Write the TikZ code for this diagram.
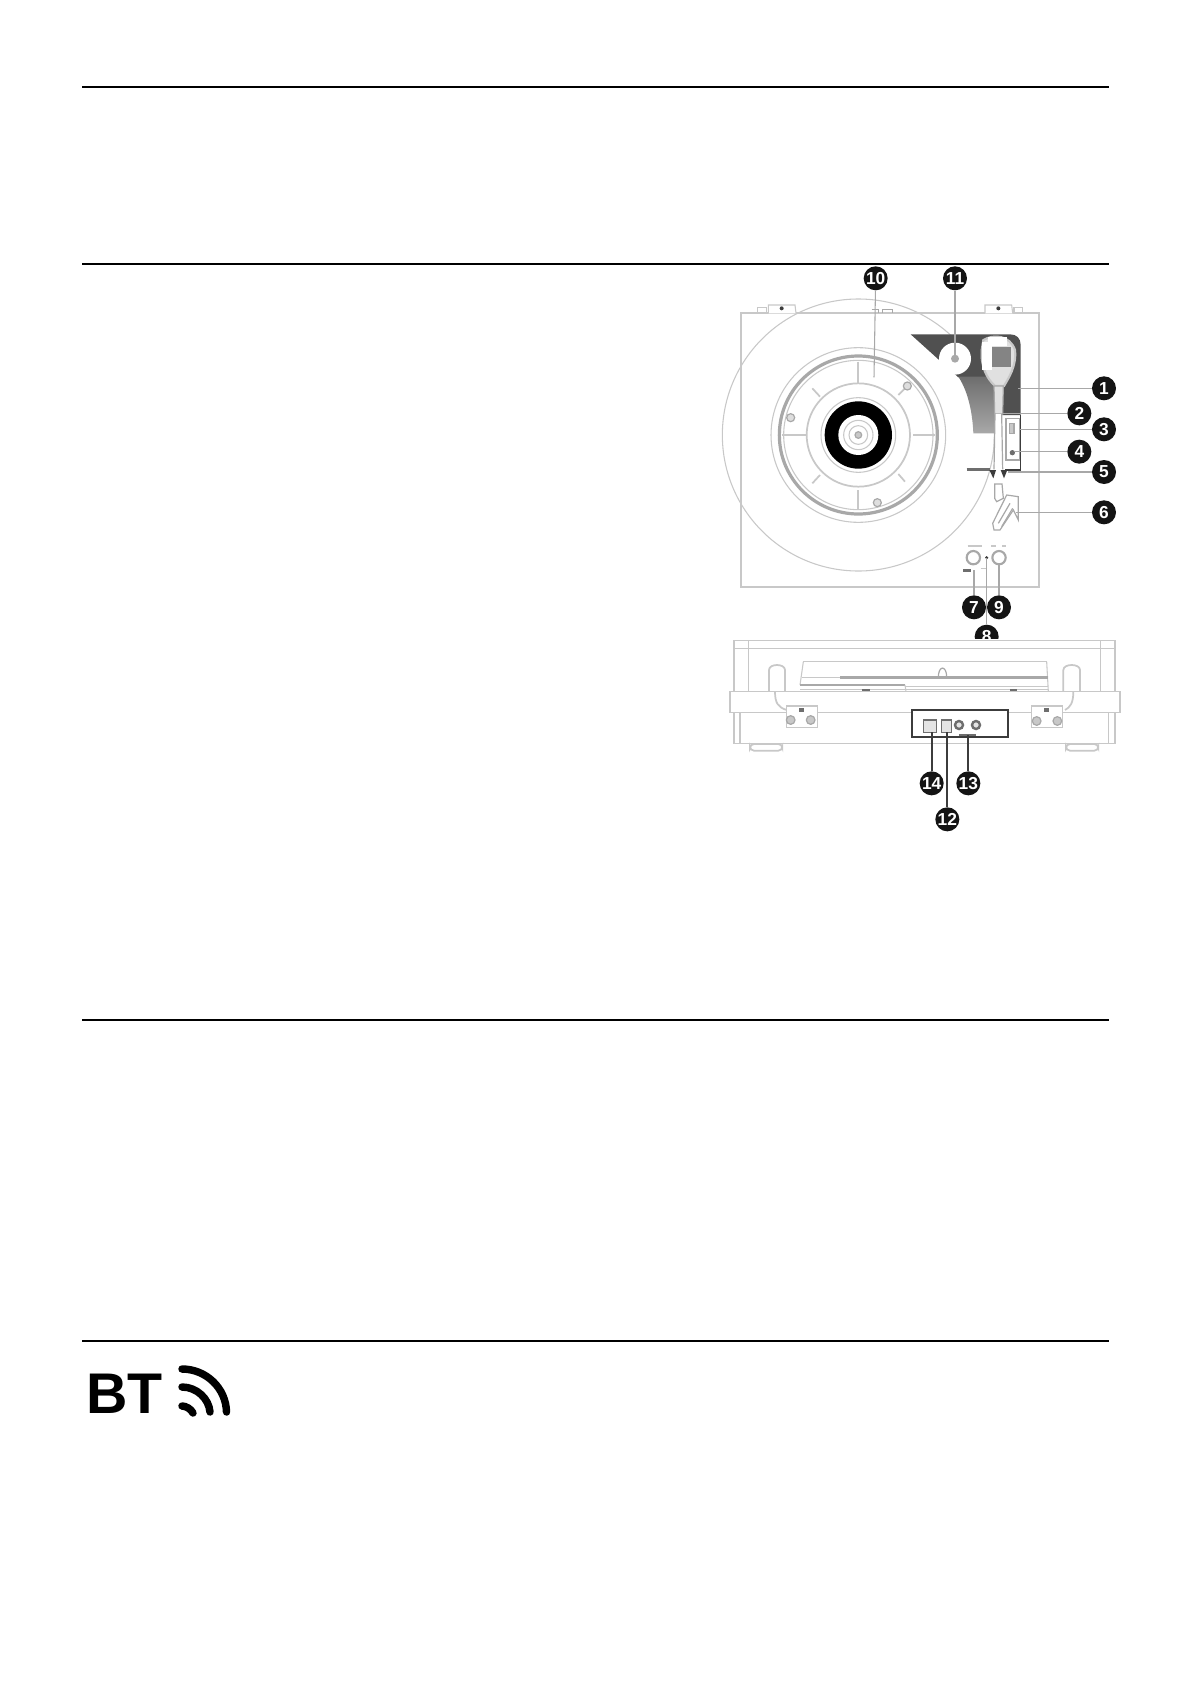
\documentclass[tikz,border=0pt]{standalone}
\usepackage{fontspec}
\setmainfont{Liberation Sans}
\definecolor{lg}{HTML}{C8C8C8}
\definecolor{mg}{HTML}{A8A8A8}
\definecolor{dg}{HTML}{6E6E6E}
\definecolor{ink}{HTML}{3C3C3C}
\tikzset{
  rulel/.style={draw=black,line width=1.5pt},
  badge/.style={circle,fill=black!92,text=white,inner sep=0pt,minimum size=18pt,font=\fontsize{13}{13}\selectfont\bfseries},
  lead/.style={draw=mg,line width=0.8pt},
  leadk/.style={draw=ink,line width=1.3pt},
  thinl/.style={draw=lg,line width=0.8pt},
  thickl/.style={draw=lg,line width=1.3pt},
  midl/.style={draw=mg,line width=0.9pt},
  wave/.style={draw=black,line width=5.6pt,line cap=round}
}
\begin{document}
\begin{tikzpicture}[x=0.75pt,y=-0.75pt]
\useasboundingbox (0,0) rectangle (1191,1684);
\fill[white] (0,0) rectangle (1191,1684);
% page rules
\coordinate (r1a) at (82,87);   \coordinate (r1b) at (1109,87);
\coordinate (r2a) at (82,264);  \coordinate (r2b) at (1109,264);
\coordinate (r3a) at (82,1019.5); \coordinate (r3b) at (1109,1019.5);
\coordinate (r4a) at (82,1341); \coordinate (r4b) at (1109,1341);
\draw[rulel] (r1a) -- (r1b);
\draw[rulel] (r2a) -- (r2b);
\draw[rulel] (r3a) -- (r3b);
\draw[rulel] (r4a) -- (r4b);
% BT icon
\node[anchor=base west,inner sep=0pt,font=\fontsize{43}{43}\selectfont\bfseries] (bt) at (86,1413) {BT};
\draw[wave] (182,1406) .. controls (186,1406) and (191,1409) .. (193,1413);
\draw[wave] (182,1387) .. controls (197,1387) and (209,1399) .. (210,1412);
\draw[wave] (182,1369) .. controls (206,1369) and (226,1388) .. (226.5,1412);
% ---------- top view (coordinates in 1/3 px from 700,260)
\begin{scope}[shift={(700,260)},x=0.25pt,y=-0.25pt]
  % plinth and hinge tabs
  \draw[thickl] (122,160) rectangle (1018,982);
  \filldraw[thinl,fill=white] (205,160) -- (205,135) -- (285,135) -- (288,160);
  \filldraw[thinl,fill=white] (855,160) -- (855,135) -- (935,135) -- (938,160);
  \draw[thinl] (172,143) rectangle (200,160);
  \draw[thinl] (942,143) rectangle (968,160);
  \fill[ink] (245,145) circle (6);
  \fill[ink] (895,145) circle (6);
  \draw[midl] (515,148) -- (535,148) -- (535,160) (548,160) -- (548,148) -- (578,148) -- (578,160);
  % platter
  \draw[thinl] (475,525) circle (408);
  \draw[thinl] (475,525) circle (262);
  \draw[draw=mg,line width=2.4pt] (475,525) circle (237);
  \draw[thinl] (475,525) circle (224);
  \draw[thickl] (475,525) circle (155);
  \draw[thinl] (475,525) circle (112);
  \fill[black] (475,525) circle (101);
  \fill[white] (475,525) circle (60);
  \draw[thinl] (475,525) circle (44);
  \draw[thinl] (475,525) circle (28);
  \filldraw[midl,fill=lg] (475,525) circle (10);
  \draw[thickl] (475,305) -- (475,368);
  \draw[thickl] (475,690) -- (475,750);
  \draw[thickl] (245,525) -- (320,525);
  \draw[thickl] (640,525) -- (705,525);
  \draw[thickl] (337,385) -- (360,410);
  \draw[thickl] (595,405) -- (622,378);
  \draw[thickl] (337,670) -- (360,645);
  \draw[thickl] (595,642) -- (615,665);
  \filldraw[midl,fill=lg!60] (272,473) circle (12);
  \filldraw[midl,fill=lg!60] (622,378) circle (12);
  \filldraw[midl,fill=lg!60] (532,728) circle (12);
  % arm base
  \fill[ink!90] (632,223) -- (930,223) .. controls (950,223) and (962,235) .. (962,255)
     -- (962,465) -- (885,465) -- (885,352) -- (775,352) -- cycle;
  \shade[top color=dg,bottom color=mg] (775,350) .. controls (808,400) and (818,470) .. (820,520)
     -- (885,520) -- (885,350) -- cycle;
  \draw[draw=ink,line width=1.2pt] (962,465) -- (962,630);
  \filldraw[draw=mg,line width=0.9pt,fill=white] (918,475) rectangle (958,600);
  \filldraw[midl,fill=lg] (928,490) rectangle (942,520);
  \fill[dg] (937,578) circle (8);
  \fill[white] (765,296) circle (48);
  \fill[mg] (765,296) circle (12);
  % head of the arm
  \filldraw[draw=lg,line width=1.6pt,fill=white!88!black] (850,240) .. controls (880,222) and (930,225) .. (945,270)
     .. controls (950,320) and (925,355) .. (912,378) -- (885,378)
     .. controls (860,355) and (842,320) .. (845,270) -- cycle;
  \fill[white] (845,245) rectangle (875,330);
  \fill[white] (865,232) rectangle (920,258);
  \fill[dg!85] (875,262) rectangle (932,322);
  \filldraw[midl,fill=white!88!black] (882,378) -- (910,378) -- (908,462) -- (884,462) -- cycle;
  % arm tube
  \fill[white] (885,462) rectangle (905,628);
  \draw[midl] (885,462) -- (882,628);
  \draw[midl] (905,462) -- (908,628);
  % rest bar
  \draw[draw=dg,line width=1.8pt] (800,628) -- (870,628);
  \draw[draw=ink,line width=1.4pt] (915,630) -- (962,630);
  % clamps
  \fill[ink] (868,630) -- (888,630) -- (880,655) -- cycle;
  \fill[ink] (902,630) -- (922,630) -- (912,655) -- cycle;
  % cartridge and head shell
  \filldraw[draw=mg,line width=0.9pt,fill=white] (884,672) -- (906,672) -- (910,715) -- (890,725) -- (884,715) -- cycle;
  \draw[midl] (920,705) -- (955,710) -- (955,780) -- (940,750) -- (900,810) -- (882,810) -- (878,790) -- cycle;
  \draw[midl] (895,790) -- (930,730) (905,800) -- (938,745);
  % controls
  \draw[draw=mg,line width=1.6pt] (820,893) circle (20);
  \draw[draw=mg,line width=1.6pt] (897,893) circle (20);
  \fill[ink] (860,893) circle (5);
  \draw[thinl] (803,858) -- (846,858) (873,858) -- (888,858) (906,858) -- (918,858) (842,925) -- (858,925);
  \draw[draw=dg,line width=1.8pt] (790,932) -- (814,932);
  % badges
  \node[badge] (b10) at (527,55) {10};
  \node[badge] (b11) at (765,55) {11};
  \node[badge] (b1) at (1212,385) {1};
  \node[badge] (b2) at (1138,460) {2};
  \node[badge] (b3) at (1212,508) {3};
  \node[badge] (b4) at (1138,575) {4};
  \node[badge] (b5) at (1212,636) {5};
  \node[badge] (b6) at (1212,757) {6};
  \node[badge] (b7) at (822,1042) {7};
  \node[badge] (b9) at (897,1042) {9};
  \begin{scope}
    \clip (700,1000) rectangle (1000,1136);
    \node[badge] (b8) at (860,1130) {8};
  \end{scope}
  \coordinate (e10) at (522,352);
  \coordinate (e11) at (765,296);
  \coordinate (e1) at (955,385);
  \coordinate (e2) at (905,460);
  \coordinate (e3) at (958,508);
  \coordinate (e4) at (945,575);
  \coordinate (e5) at (925,636);
  \coordinate (e6) at (948,757);
  \coordinate (e7) at (822,930);
  \coordinate (e9) at (897,915);
  \coordinate (e8) at (860,893);
  \draw[lead] (b10) -- (e10);
  \draw[lead] (b11) -- (e11);
  \draw[lead] (b1) -- (e1);
  \draw[lead] (b2) -- (e2);
  \draw[lead] (b3) -- (e3);
  \draw[lead] (b4) -- (e4);
  \draw[lead] (b5) -- (e5);
  \draw[lead] (b6) -- (e6);
  \draw[lead] (b7) -- (e7);
  \draw[lead] (b9) -- (e9);
  \draw[lead] (b8) -- (e8);
\end{scope}
% ---------- rear view (coordinates in 1/3 px from 720,620)
\begin{scope}[shift={(720,620)},x=0.25pt,y=-0.25pt]
  % lid
  \draw[thinl] (42,215) -- (42,62) -- (1185,62) -- (1185,215);
  \draw[thinl] (42,85) -- (1185,85);
  \draw[thinl] (85,62) -- (85,215);
  \draw[thinl] (1142,62) -- (1142,215);
  % platter seen from the rear
  \draw[thinl] (250,125) -- (980,125);
  \draw[thinl] (250,125) -- (240,195);
  \draw[thinl] (980,125) -- (985,215);
  \draw[draw=mg,line width=2pt] (360,172) -- (985,172);
  \draw[thinl] (245,172) -- (360,172);
  \draw[draw=mg,line width=1.6pt] (240,195) -- (555,195);
  \draw[thinl] (555,200) -- (985,200);
  \draw[thinl] (240,208) -- (985,208);
  \draw[thinl] (555,195) -- (558,215);
  \draw[midl] (655,172) .. controls (655,135) and (680,135) .. (680,172);
  \draw[draw=dg,line width=1.6pt] (425,211) -- (450,211) (870,211) -- (890,211);
  % hinges
  \draw[thickl] (147,215) -- (147,150) .. controls (147,130) and (195,130) .. (195,150) -- (195,215);
  \draw[thickl] (1030,215) -- (1030,150) .. controls (1030,130) and (1080,130) .. (1080,150) -- (1080,215);
  % plinth band and body
  \draw[thinl] (30,215) rectangle (1200,278);
  \draw[thinl] (42,278) -- (42,370) -- (1185,370) -- (1185,278);
  \draw[thinl] (60,278) -- (60,370);
  \draw[thinl] (1165,278) -- (1165,370);
  \draw[thickl] (165,215) .. controls (165,250) and (175,262) .. (200,270);
  \draw[thickl] (1060,215) .. controls (1060,250) and (1050,262) .. (1035,270);
  % feet
  \draw[thickl,rounded corners=3pt] (90,372) rectangle (187,392);
  \draw[thickl,rounded corners=3pt] (1038,372) rectangle (1135,392);
  % hinge plates
  \filldraw[thinl,fill=white] (200,258) rectangle (292,322);
  \filldraw[thinl,fill=white] (935,258) rectangle (1027,322);
  \filldraw[midl,fill=lg] (212,300) circle (13);
  \filldraw[midl,fill=lg] (272,300) circle (13);
  \filldraw[midl,fill=lg] (950,303) circle (13);
  \filldraw[midl,fill=lg] (1012,303) circle (13);
  \fill[dg] (238,263) rectangle (252,275);
  \fill[dg] (973,263) rectangle (987,275);
  % connector panel
  \filldraw[draw=ink,line width=1.5pt,fill=white] (577,270) rectangle (865,350);
  \filldraw[draw=dg,line width=1.1pt,fill=lg!50] (610,300) rectangle (650,338);
  \filldraw[draw=dg,line width=1.1pt,fill=lg!50] (665,300) rectangle (695,338);
  \filldraw[draw=dg,line width=1.8pt,fill=lg!50] (717,315) circle (12);
  \filldraw[draw=dg,line width=1.8pt,fill=lg!50] (768,315) circle (12);
  \draw[draw=dg,line width=1pt] (717,345) -- (768,345);
  % badges
  \node[badge] (b14) at (635,490) {14};
  \node[badge] (b13) at (745,490) {13};
  \node[badge] (b12) at (682,598) {12};
  \coordinate (e14) at (635,335);
  \coordinate (e13) at (745,345);
  \coordinate (e12) at (682,335);
  \draw[leadk] (b14) -- (e14);
  \draw[leadk] (b13) -- (e13);
  \draw[leadk] (b12) -- (e12);
\end{scope}
\end{tikzpicture}
\end{document}
